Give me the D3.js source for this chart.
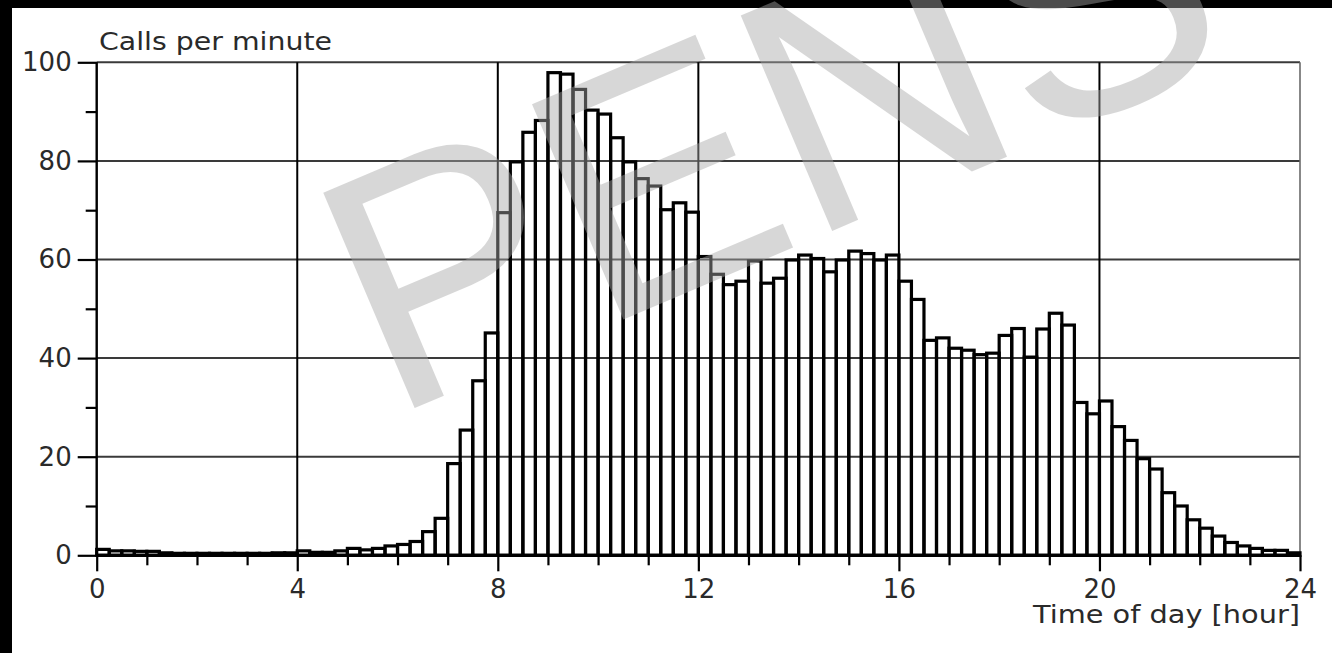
<!DOCTYPE html>
<html>
<head>
<meta charset="utf-8">
<script src="https://cdn.jsdelivr.net/npm/d3@7"></script>
<style>
  body { margin: 0; background: #fff; }
  svg { display: block; }
  text { font-family: "DejaVu Sans", sans-serif; }
</style>
</head>
<body>
<div id="chart"></div>
<script>
// Canvas and plot frame
const WIDTH = 1332;
const HEIGHT = 653;
const MARGIN = { top: 62.3, right: 32, bottom: 97.7, left: 96.7 };

// Data: calls per minute, one value per 15 minutes (0:00 .. 23:45)
const SLOT_HOURS = 0.25;
const callsPerMinute = [
  1.2, 0.9, 0.9, 0.8, 0.8, 0.5, 0.4, 0.4, 0.4, 0.4, 0.4, 0.4, 0.4, 0.4, 0.5, 0.5,
  0.9, 0.6, 0.6, 0.9, 1.4, 1.1, 1.4, 1.9, 2.2, 2.8, 4.8, 7.5, 18.6, 25.4, 35.4, 45.1,
  69.5, 79.8, 85.8, 88.2, 97.9, 97.6, 94.5, 90.3, 89.5, 84.7, 79.8, 76.4, 74.9, 70.1, 71.5, 69.6,
  60.6, 57.0, 54.9, 55.6, 59.7, 55.2, 56.2, 59.9, 60.9, 60.2, 57.5, 59.9, 61.7, 61.2, 59.9, 60.9,
  55.6, 51.9, 43.6, 44.1, 42.0, 41.6, 40.7, 41.0, 44.6, 46.0, 40.2, 45.9, 49.1, 46.7, 31.0, 28.7,
  31.3, 26.1, 23.3, 19.6, 17.5, 12.7, 10.0, 7.2, 5.5, 3.9, 2.6, 1.9, 1.4, 1.0, 1.0, 0.5
];

// Axis ticks
const xMajorTicks = [0, 4, 8, 12, 16, 20, 24];
const xMinorTicks = [1, 2, 3, 5, 6, 7, 9, 10, 11, 13, 14, 15, 17, 18, 19, 21, 22, 23];
const yMajorTicks = [0, 20, 40, 60, 80, 100];
const yMinorTicks = [10, 30, 50, 70, 90];

const yTitle = "Calls per minute";
const xTitle = "Time of day [hour]";
const watermark = "PENS";

const svg = d3.select("#chart")
  .append("svg")
  .attr("width", WIDTH)
  .attr("height", HEIGHT);

svg.append("rect")
  .attr("width", WIDTH)
  .attr("height", HEIGHT)
  .attr("fill", "#fff");

const x = d3.scaleLinear()
  .domain([0, 24])
  .range([MARGIN.left, WIDTH - MARGIN.right]);

const y = d3.scaleLinear()
  .domain([0, 100])
  .range([HEIGHT - MARGIN.bottom, MARGIN.top]);

// Grid lines
svg.append("g")
  .selectAll("line")
  .data(yMajorTicks.filter(d => d > 0))
  .enter()
  .append("line")
  .attr("x1", x(0))
  .attr("x2", x(24))
  .attr("y1", d => y(d))
  .attr("y2", d => y(d))
  .attr("stroke", "#3a3a3a")
  .attr("stroke-width", 2);

svg.append("g")
  .selectAll("line")
  .data(xMajorTicks)
  .enter()
  .append("line")
  .attr("x1", d => x(d))
  .attr("x2", d => x(d))
  .attr("y1", y(100))
  .attr("y2", y(0))
  .attr("stroke", d => d === 24 ? "#6a6a6a" : "#000")
  .attr("stroke-width", d => d === 24 ? 1.6 : 2);

// Bars
svg.append("g")
  .selectAll("rect")
  .data(callsPerMinute)
  .enter()
  .append("rect")
  .attr("x", (d, i) => x(i * SLOT_HOURS))
  .attr("width", (d, i) => x((i + 1) * SLOT_HOURS) - x(i * SLOT_HOURS))
  .attr("y", d => y(d))
  .attr("height", d => y(0) - y(d))
  .attr("fill", "none")
  .attr("stroke", "#000")
  .attr("stroke-width", 3.2);

// X axis
const xAxis = svg.append("g")
  .attr("transform", `translate(0,${y(0)})`)
  .call(d3.axisBottom(x).tickValues(xMajorTicks).tickSize(16).tickPadding(8).tickFormat(d3.format("d")));

svg.append("g")
  .attr("transform", `translate(0,${y(0)})`)
  .call(d3.axisBottom(x).tickValues(xMinorTicks).tickSize(10).tickFormat(""))
  .call(g => g.select(".domain").remove());

// Y axis
const yAxis = svg.append("g")
  .attr("transform", `translate(${x(0)},0)`)
  .call(d3.axisLeft(y).tickValues(yMajorTicks).tickSize(19).tickPadding(6).tickFormat(d3.format("d")));

svg.append("g")
  .attr("transform", `translate(${x(0)},0)`)
  .call(d3.axisLeft(y).tickValues(yMinorTicks).tickSize(11).tickFormat(""))
  .call(g => g.select(".domain").remove());

svg.selectAll(".tick line")
  .attr("stroke", "#000")
  .attr("stroke-width", 2.2);

svg.selectAll(".tick text")
  .style("font-size", "26px")
  .style("fill", "#2a2a2a");

xAxis.select(".domain")
  .attr("d", `M${x(0)},0H${x(24)}`)
  .attr("stroke", "#000")
  .attr("stroke-width", 3.2);

yAxis.select(".domain")
  .attr("d", `M0,${y(0)}V${y(100)}`)
  .attr("stroke", "#000")
  .attr("stroke-width", 2);

// Axis titles
svg.append("text")
  .attr("x", 99)
  .attr("y", 50)
  .attr("textLength", 233)
  .attr("lengthAdjust", "spacingAndGlyphs")
  .style("font-size", "25px")
  .style("fill", "#2a2a2a")
  .text(yTitle);

svg.append("text")
  .attr("x", 1033)
  .attr("y", 623)
  .attr("textLength", 267)
  .attr("lengthAdjust", "spacingAndGlyphs")
  .style("font-size", "25px")
  .style("fill", "#2a2a2a")
  .text(xTitle);

// Black scan border
svg.append("rect").attr("x", 0).attr("y", 0).attr("width", WIDTH).attr("height", 8).attr("fill", "#000");
svg.append("rect").attr("x", 0).attr("y", 0).attr("width", 12).attr("height", HEIGHT).attr("fill", "#000");

// Watermark, drawn over everything
svg.append("text")
  .attr("transform", "translate(389,419) rotate(-23)")
  .style("font-family", "'Liberation Sans', Arial, sans-serif")
  .style("font-size", "340px")
  .style("fill", "#a8a8a8")
  .style("opacity", 0.45)
  .text(watermark);
</script>
</body>
</html>
